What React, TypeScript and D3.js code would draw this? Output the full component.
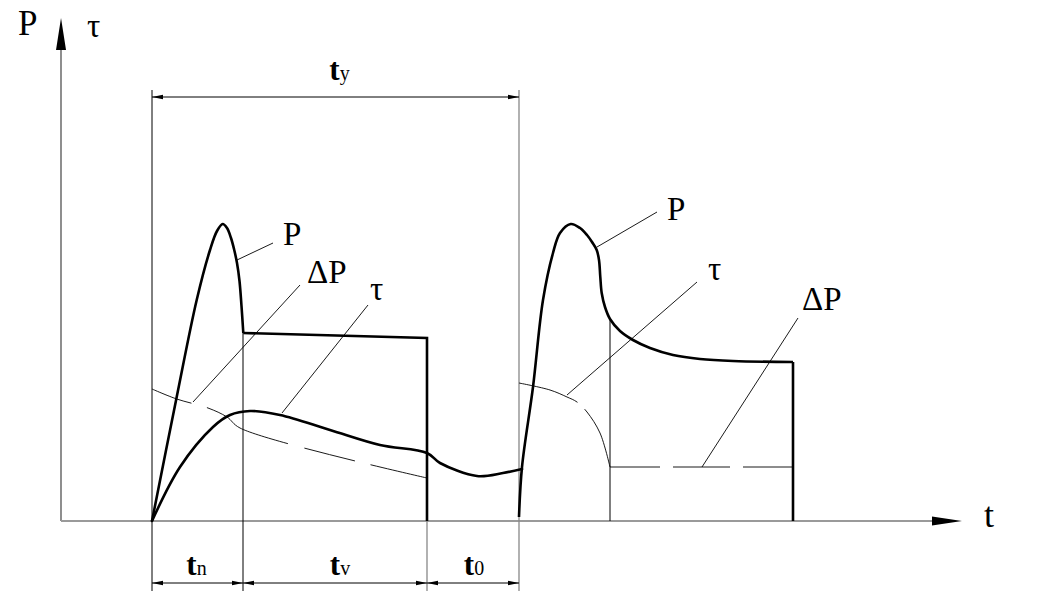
import React from "react";
import * as d3 from "d3";

type Pt = [number, number];

// ---- data (time units along t, value units along P/τ) ----
const p1Curve: Pt[] = [[91, 0], [115.7, 124], [135.7, 221], [149, 271], [156, 290], [161.7, 297], [166, 293], [170, 283], [173, 272], [176, 258], [178.5, 240], [180.5, 215], [182.3, 188]];
const p1Tail: Pt[] = [[182.3, 188], [366, 183], [366, 0]];
const tau1: Pt[] = [[91, 0], [119, 54], [152, 94], [169, 106], [189, 110], [219, 106], [269, 91], [319, 76], [366, 68], [379, 58], [416, 45], [442, 48], [461, 52]];
const dP1: Pt[] = [[91, 132], [115.7, 122], [147, 113], [166, 104], [179, 93], [366, 43]];
const p2Curve: Pt[] = [[458, 4], [461, 54], [472, 134], [482, 221], [492, 268], [499, 288], [509.7, 297], [519, 293], [526, 286], [531, 279], [535.7, 271], [538, 261], [539.3, 244], [540.7, 228], [544, 214], [549, 202], [559, 190], [572, 181], [589, 173], [612, 166], [639, 162], [672, 160], [732, 159]];
const p2Tail: Pt[] = [[732, 159], [732, 0]];
const tau2: Pt[] = [[458, 138], [489, 131], [506, 124], [516, 119], [526, 109], [539, 88], [549, 54]];
const dP2: Pt[] = [[549, 54], [732, 54]];

const tStart = 91, tN = 182, tV = 366, t0 = 458, tS2 = 549;

const leaders: [Pt, Pt][] = [
  [[176, 261], [212, 278]],
  [[132, 119], [239, 236]],
  [[221, 108], [307, 216]],
  [[536, 274], [596, 309]],
  [[506, 126], [636, 239]],
  [[641, 54], [737, 203]],
];
const curveLabels: { t: string; at: Pt }[] = [
  { t: "P", at: [222, 276] },
  { t: "ΔP", at: [246, 238] },
  { t: "τ", at: [309, 221] },
  { t: "P", at: [606, 301] },
  { t: "τ", at: [647, 241] },
  { t: "ΔP", at: [741, 211] },
];
const dimLabels: { main: string; sub: string; from: number; to: number; shift: number }[] = [
  { main: "t", sub: "n", from: tStart, to: tN, shift: -1 },
  { main: "t", sub: "v", from: tN, to: tV, shift: 5 },
  { main: "t", sub: "0", from: tV, to: t0, shift: 1 },
];

const FONT = "'Liberation Serif', 'Times New Roman', serif";

export default function App() {
  const W = 1050, H = 604;
  const x = d3.scaleLinear().domain([0, 900]).range([61, 961]);
  const y = d3.scaleLinear().domain([0, 500]).range([521, 21]);
  const smooth = d3.line<Pt>().x(d => x(d[0])).y(d => y(d[1])).curve(d3.curveCatmullRom.alpha(0.5));
  const lin = d3.line<Pt>().x(d => x(d[0])).y(d => y(d[1]));

  const dimY = 583;
  const topDimY = 97;
  const arrow = (px: number, py: number, dir: number, len = 11, hw = 2.2) =>
    `M${px},${py}L${px + dir * len},${py - hw}L${px + dir * len},${py + hw}Z`;

  const thick = 2.6;

  return (
    <svg width={W} height={H} style={{ position: "absolute", left: 0, top: 0, background: "#fff" }} fontFamily={FONT}>
      <rect width={W} height={H} fill="#fff" />
      {/* axes */}
      <line x1={x(0)} y1={y(0)} x2={x(0)} y2={50} stroke="#444" strokeWidth={1.2} />
      <path d={`M${x(0)},18L${x(0) - 5},50L${x(0) + 5},50Z`} fill="#000" />
      <line x1={x(0)} y1={y(0)} x2={932} y2={y(0)} stroke="#9a9a9a" strokeWidth={2} />
      <path d={`M962,${y(0)}L932,${y(0) - 4.5}L932,${y(0) + 4.5}Z`} fill="#000" />
      <text x={18} y={35} fontSize={35}>P</text>
      <text x={87} y={37} fontSize={33}>τ</text>
      <text x={984} y={527} fontSize={36}>t</text>

      {/* extension lines */}
      <line x1={x(tStart)} y1={90} x2={x(tStart)} y2={591} stroke="#000" strokeWidth={1} />
      <line x1={x(t0)} y1={90} x2={x(t0)} y2={591} stroke="#888" strokeWidth={1.3} />
      <line x1={x(tN)} y1={y(188)} x2={x(tN)} y2={591} stroke="#000" strokeWidth={1} />
      <line x1={x(tV)} y1={y(0)} x2={x(tV)} y2={591} stroke="#888" strokeWidth={1.3} />
      <line x1={x(tS2)} y1={y(202)} x2={x(tS2)} y2={y(0)} stroke="#000" strokeWidth={1} />

      {/* top dimension */}
      <line x1={x(tStart)} y1={topDimY} x2={x(t0)} y2={topDimY} stroke="#000" strokeWidth={1} />
      <path d={arrow(x(tStart), topDimY, 1)} fill="#000" />
      <path d={arrow(x(t0), topDimY, -1)} fill="#000" />
      <text x={(x(tStart) + x(t0)) / 2 + 4} y={80} fontSize={31} textAnchor="middle">
        <tspan fontWeight="bold">t</tspan><tspan fontSize={20}>y</tspan>
      </text>

      {/* bottom dimensions */}
      {dimLabels.map((d, i) => (
        <g key={i}>
          <line x1={x(d.from)} y1={dimY} x2={x(d.to)} y2={dimY} stroke="#000" strokeWidth={1} />
          <path d={arrow(x(d.from), dimY, 1)} fill="#000" />
          <path d={arrow(x(d.to), dimY, -1)} fill="#000" />
          <text x={(x(d.from) + x(d.to)) / 2 + d.shift} y={575} fontSize={31} textAnchor="middle">
            <tspan fontWeight="bold">{d.main}</tspan><tspan fontSize={20}>{d.sub}</tspan>
          </text>
        </g>
      ))}

      {/* thin dashed curves */}
      <path d={smooth(dP1) || ""} fill="none" stroke="#000" strokeWidth={0.9} strokeDasharray="42 16 90 17 52 16 60" />
      <path d={smooth(tau2) || ""} fill="none" stroke="#000" strokeWidth={0.9} strokeDasharray="62 10 200" />
      <path d={lin(dP2) || ""} fill="none" stroke="#000" strokeWidth={0.9} strokeDasharray="50 13 57 13 60" />

      {/* thick curves */}
      <path d={smooth(p1Curve) || ""} fill="none" stroke="#000" strokeWidth={thick} strokeLinejoin="round" />
      <path d={lin(p1Tail) || ""} fill="none" stroke="#000" strokeWidth={thick} />
      <path d={smooth(tau1) || ""} fill="none" stroke="#000" strokeWidth={thick} strokeLinecap="round" />
      <path d={smooth(p2Curve) || ""} fill="none" stroke="#000" strokeWidth={thick} strokeLinejoin="round" />
      <path d={lin(p2Tail) || ""} fill="none" stroke="#000" strokeWidth={thick} />

      {/* leaders and labels */}
      {leaders.map((l, i) => (
        <line key={i} x1={x(l[0][0])} y1={y(l[0][1])} x2={x(l[1][0])} y2={y(l[1][1])} stroke="#000" strokeWidth={0.9} />
      ))}
      {curveLabels.map((c, i) => (
        <text key={i} x={x(c.at[0])} y={y(c.at[1])} fontSize={33}>{c.t}</text>
      ))}
    </svg>
  );
}
